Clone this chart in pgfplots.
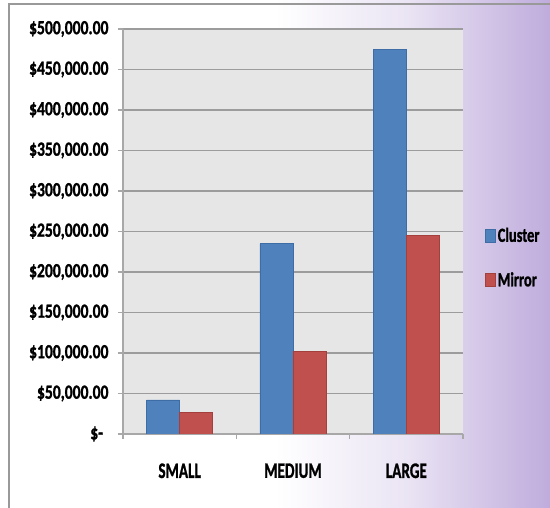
\documentclass[border=0pt]{standalone}
\usepackage{fontspec}
\setmainfont{Carlito}
\newfontfamily\heavy{Carlito}[UprightFont=*-Bold, FakeBold=1.4]
\usepackage{graphicx}
\usepackage{pgfplots}
\pgfplotsset{compat=1.18}

\definecolor{cblue}{HTML}{4F81BD}
\definecolor{cblueD}{HTML}{3E6DA6}
\definecolor{cred}{HTML}{C0504D}
\definecolor{credD}{HTML}{A33F3C}
\definecolor{plotgray}{HTML}{E6E6E6}
\definecolor{gridgray}{HTML}{9C9C9C}
\definecolor{axisgray}{HTML}{A8A8A8}
\definecolor{framegray}{HTML}{999999}
\definecolor{lav}{HTML}{BFACDC}
\definecolor{lavmid}{HTML}{EAE4F4}

\newcommand{\lbl}[1]{\scalebox{0.72}[1]{\fontsize{20}{24}\selectfont\heavy #1}}
\newcommand{\ylb}[1]{\scalebox{0.78}[1]{\fontsize{20}{24}\selectfont\heavy #1}}
\newcommand{\cat}[1]{\scalebox{0.69}[1]{\fontsize{22}{26}\selectfont\heavy #1}}

\pgfdeclarehorizontalshading{bgshade}{100bp}{color(0bp)=(white); color(25bp)=(white); color(50bp)=(white); color(62bp)=(lavmid); color(75bp)=(lav); color(100bp)=(lav)}

\begin{document}
\begin{tikzpicture}
\useasboundingbox (0pt,0pt) rectangle (550pt,508pt);
\shade[shading=bgshade] (0pt,0pt) rectangle (550pt,508pt);
\draw[framegray, line width=2pt] (9pt,0pt) -- (9pt,504pt) -- (550pt,504pt);

\begin{axis}[
  at={(123pt,74pt)}, anchor=south west,
  scale only axis, width=340pt, height=405pt,
  xmin=-0.5, xmax=2.5, ymin=0, ymax=500000,
  axis background/.style={fill=plotgray},
  axis lines=left,
  axis line style={-, draw=axisgray, line width=1.6pt},
  ybar=0pt, bar width=33pt,
  xtick={-0.5,0.5,1.5,2.5},
  xticklabels={\cat{SMALL},\cat{MEDIUM},\cat{LARGE},{}},
  xticklabel style={xshift=56.67pt, yshift=-21pt},
  ytick={0,50000,...,500000},
  yticklabels={\ylb{\$-\hspace{7pt}},\ylb{\$50,000.00},\ylb{\$100,000.00},\ylb{\$150,000.00},\ylb{\$200,000.00},\ylb{\$250,000.00},\ylb{\$300,000.00},\ylb{\$350,000.00},\ylb{\$400,000.00},\ylb{\$450,000.00},\ylb{\$500,000.00}},
  yticklabel style={xshift=-6pt},
  scaled y ticks=false,
  tick align=outside, major tick length=5pt,
  tick style={axisgray, line width=1.6pt},
  ymajorgrids, grid style={gridgray, line width=1.3pt},
  legend style={draw=none, fill=none, at={(1,0.435)}, anchor=west, xshift=22pt,
    row sep=25pt, inner sep=0pt},
  legend cell align=left,
  legend image code/.code={\draw[#1, line width=0.6pt] (0pt,-6.5pt) rectangle (10pt,6.5pt);},
]
\addplot[fill=cblue, draw=cblueD, line width=0.6pt] coordinates {(0,42000) (1,235000) (2,475000)};
\addplot[fill=cred, draw=credD, line width=0.6pt] coordinates {(0,26500) (1,101500) (2,245000)};
\legend{\lbl{Cluster},\lbl{Mirror}}
\end{axis}
\end{tikzpicture}
\end{document}
